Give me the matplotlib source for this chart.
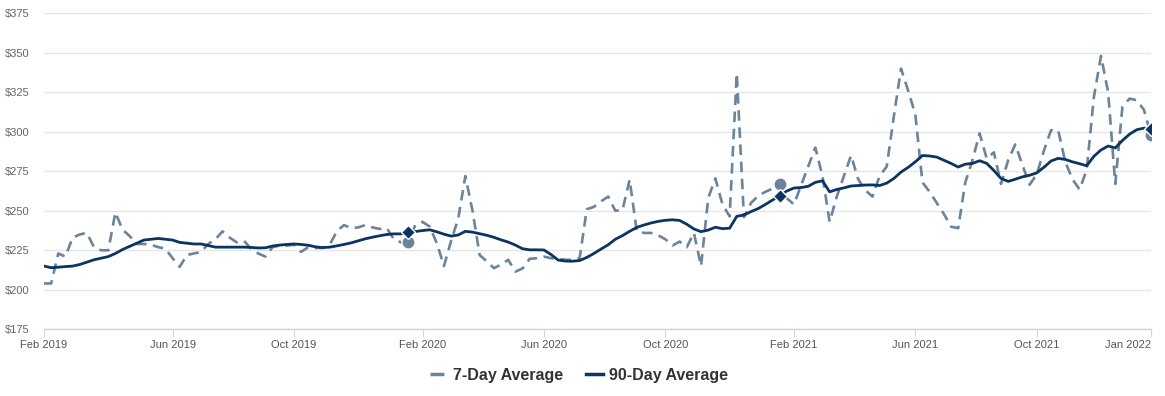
import numpy as np
import pandas as pd
import matplotlib
matplotlib.use("Agg")
import matplotlib.pyplot as plt
from matplotlib.lines import Line2D

plt.rcParams['font.family'] = ['Liberation Sans', 'DejaVu Sans']

# weekly points, Feb 2019 - Jan 2022
dates = pd.date_range("2019-02-01", periods=156, freq="7D")

avg_7day = [
    204, 204, 223, 221, 233, 235, 236, 227, 225, 225,
    249, 238, 234, 229, 229, 228.5, 227, 226, 220, 214.5,
    222, 223, 224, 229, 232, 237, 233, 230, 231, 226,
    223, 221, 227, 228, 228, 228.5, 224, 227, 226.5, 226.5,
    228.5, 237, 241, 239, 239.5, 241, 239.5, 238.5, 239, 232,
    230, 230.5, 241, 243, 240, 229.5, 215, 231, 245, 272,
    250, 222, 218, 213.7, 216, 219, 211.5, 213.5, 219.6, 220,
    221, 220, 219.5, 219, 219, 220, 251, 252.5, 256, 259,
    250, 250.5, 269.7, 237, 236, 236, 234.5, 232, 228, 230.5,
    227, 236, 215, 258, 270.5, 254, 246.5, 337, 246, 255,
    259.5, 262, 264, 267, 258, 254, 266, 278, 290, 272,
    243, 259, 272, 285, 270, 263, 259, 272, 278, 310,
    340, 326, 311, 268, 262, 255, 248, 240, 239, 268,
    282, 299, 283, 287, 267, 282, 292, 279, 266.5, 273,
    288, 301, 301, 281, 270, 263.5, 276, 322, 348, 325,
    267, 316, 321, 320, 314, 298,
]

avg_90day = [
    215, 214, 214.3, 214.7, 215, 216, 217.5, 219, 220, 221,
    223, 225.5, 227.5, 229.5, 231.5, 232, 232.5, 232, 231.5, 230,
    229.5, 229, 229, 228, 227, 227, 227, 227, 227, 226.8,
    226.5, 226.6, 227.7, 228.3, 228.7, 229, 228.7, 228.2, 227.2, 226.7,
    227, 227.8, 228.7, 229.7, 231, 232.3, 233.3, 234.2, 235, 235.4,
    235.4, 236.3, 236.9, 237.5, 238, 236.7, 235.2, 234, 234.7, 237,
    236.5, 235.5, 234.5, 233.2, 231.6, 230.2, 228.3, 226, 225.3, 225.3,
    225.2, 222.3, 218.8, 218.2, 218.1, 218.5, 220.5, 223, 225.8, 228.5,
    232, 234.3, 237, 239.5, 241, 242.3, 243.3, 244, 244.3, 243.9,
    241.5, 238.5, 236.8, 237.8, 239.6, 238.7, 239, 246.5, 247.3, 249.5,
    251.4, 254, 256.8, 259.5, 262.5, 264.4, 264.7, 265.5, 268, 269,
    262, 263.5, 264.5, 265.7, 266, 266.3, 266.4, 266, 267.5, 270.5,
    274.5, 277.5, 281, 285, 284.7, 284, 282, 280, 277.7, 279.5,
    280, 281.7, 280, 275.5, 270.5, 268.6, 270, 271.5, 272.5, 274,
    277.5, 281.5, 283.2, 282.5, 281, 279.8, 278.5, 284.5, 288.5, 291,
    289.8, 294.5, 298.5, 301.3, 302.3, 302,
]

# same week in each year, highlighted
marker_idx = [51, 103, 155]

y_ticks = [175, 200, 225, 250, 275, 300, 325, 350, 375]

c7 = "#6b849b"
c90 = "#0c3461"

fig = plt.figure(figsize=(11.65, 3.96), dpi=100)
ax = fig.add_axes([44 / 1165, 66.7 / 396, 1107 / 1165, 316 / 396])

ax.plot(dates, avg_7day, color=c7, lw=1.9, dashes=(4, 2.5), zorder=3)
ax.plot(dates, avg_90day, color=c90, lw=2.0, zorder=4)

md = dates[marker_idx]
ax.plot(md, [avg_7day[i] for i in marker_idx], 'o', color=c7, ms=9.5,
        mec='white', mew=1, zorder=5)
ax.plot(md, [avg_90day[i] for i in marker_idx], 'D', color=c90, ms=7.5,
        mec='white', mew=1, zorder=6)

ax.set_xlim(dates[0], dates[-1])
ax.set_ylim(175, 375)
ax.set_yticks(y_ticks)
ax.set_yticklabels(["$%d" % v for v in y_ticks])
ax.yaxis.grid(True, color="#e6e6e6", lw=1)
ax.set_axisbelow(True)

# x ticks: first week of Feb/Jun/Oct, plus the last week
tick_dates = [d for d in dates if d.month in (2, 6, 10) and d.day <= 7]
tick_dates.append(dates[-1])
ax.set_xticks(tick_dates)
ax.set_xticklabels([d.strftime("%b %Y") for d in tick_dates])
ax.get_xticklabels()[-1].set_ha("right")

for s in ["top", "right", "left"]:
    ax.spines[s].set_visible(False)
ax.spines["bottom"].set_color("#ccd6eb")
ax.spines["bottom"].set_linewidth(1)

ax.tick_params(axis="y", length=0, pad=10.5, labelsize=8, labelcolor="#666666")
ax.tick_params(axis="x", length=6, width=0.8, color="#ccd6eb", pad=1.5,
               labelsize=8, labelcolor="#555555")

handles = [
    Line2D([], [], color=c7, lw=2.5, dashes=(4, 3)),
    Line2D([], [], color=c90, lw=2.5),
]
fig.legend(handles, ["7-Day Average", "90-Day Average"], loc="center",
           bbox_to_anchor=(0.497, 0.052), ncol=2, frameon=False,
           prop={"weight": "bold", "size": 11.5}, labelcolor="#333333",
           handlelength=1.1, handletextpad=0.35, columnspacing=1.4)

fig.savefig("out.png", dpi=100)
